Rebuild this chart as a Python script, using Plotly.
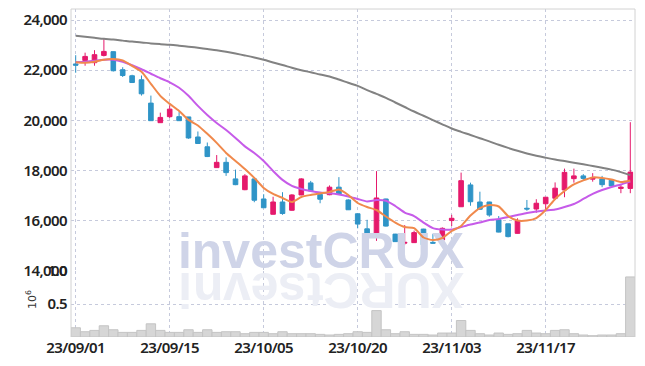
import plotly.graph_objects as go

dates = ["23/09/01","23/09/04","23/09/05","23/09/06","23/09/07","23/09/08","23/09/11","23/09/12","23/09/13","23/09/14",
         "23/09/15","23/09/18","23/09/19","23/09/20","23/09/21","23/09/22","23/09/25","23/09/26","23/09/27","23/10/04",
         "23/10/05","23/10/06","23/10/10","23/10/11","23/10/12","23/10/13","23/10/16","23/10/17","23/10/18","23/10/19",
         "23/10/20","23/10/23","23/10/24","23/10/25","23/10/26","23/10/27","23/10/30","23/10/31","23/11/01","23/11/02",
         "23/11/03","23/11/06","23/11/07","23/11/08","23/11/09","23/11/10","23/11/13","23/11/14","23/11/15","23/11/16",
         "23/11/17","23/11/20","23/11/21","23/11/22","23/11/23","23/11/24","23/11/27","23/11/28","23/11/29","23/11/30"]

open_ = [22250,22390,22300,22590,22740,22020,21780,21620,20690,19910,
         20150,20150,20140,19340,18950,18120,18330,17670,17240,17670,
         16870,16260,16750,16420,17030,17510,17050,17040,17340,16830,
         16280,15680,15430,16870,15470,15110,15130,15670,15140,15240,
         16010,16560,17430,16750,16750,16040,15880,15500,16500,16470,
         16680,16900,17230,17680,17790,17660,17670,17620,17290,17290]
high = [22600,22700,22800,23270,22750,22120,21820,21790,20990,20310,
        20600,20330,20140,19560,19120,18620,18530,18040,17860,17680,
        17060,16960,17140,17060,17700,17590,17080,17410,17740,16860,
        16290,16040,17980,16880,15480,15830,15610,15680,15470,15740,
        16240,17920,17520,17160,16760,16190,15890,16100,16830,16860,
        16950,17530,18080,18080,17860,17900,17790,17660,17440,19930]
low = [21900,22180,22180,22550,21950,21730,21490,20990,19980,19900,
       20100,19990,19270,19060,18540,18110,17790,17420,17220,16740,
       16510,16250,16240,16400,17020,17180,16700,17020,17060,16430,
       15700,15170,15200,15770,15160,15030,15120,15020,15080,15220,
       15790,16550,16600,16440,16160,15540,15340,15490,16400,16320,
       16430,16830,16940,17520,17590,17560,17340,17310,17100,17100]
close = [22200,22550,22620,22750,21980,21790,21510,21060,19990,20120,
         20450,19990,19300,19080,18560,18330,17920,17440,17790,16820,
         16520,16750,16290,17030,17670,17190,16860,17340,17070,16440,
         15870,15400,16910,15790,15170,15140,15530,15040,15110,15700,
         16100,17600,16760,16460,16230,15550,15370,16000,16470,16700,
         16940,17300,17930,17790,17690,17710,17440,17390,17340,17940]

ma_short = [22320,22300,22340,22420,22445,22390,22175,21940,21460,20980,
            20660,20380,20020,19800,19465,19105,18705,18385,18065,17710,
            17310,17070,16910,16750,16950,17030,17090,17150,17250,17030,
            16710,16550,16430,16170,15930,15750,15710,15335,15235,15315,
            15595,15795,16210,16510,16630,16570,16190,16010,16010,16110,
            16430,16870,17190,17450,17610,17730,17710,17650,17550,17610]
ma_mid = [22320,22340,22380,22420,22420,22340,22200,22040,21860,21680,
          21520,21300,20980,20580,20220,19900,19620,19300,18965,18705,
          18385,17985,17630,17390,17270,17190,17130,17100,17050,16970,
          16870,16770,16830,16800,16590,16330,16190,15930,15710,15650,
          15650,15750,15850,15930,16030,16070,16150,16230,16310,16370,
          16410,16450,16550,16670,16870,17070,17230,17350,17450,17560]
ma_long = [23370,23330,23290,23250,23220,23180,23140,23110,23070,23040,
           23015,22980,22940,22895,22845,22795,22735,22665,22590,22510,
           22420,22310,22210,22100,22000,21920,21830,21750,21630,21500,
           21375,21210,21055,20900,20715,20535,20355,20185,20015,19845,
           19680,19545,19420,19290,19165,19030,18905,18790,18685,18595,
           18515,18440,18380,18315,18250,18185,18115,18040,17940,17820]
volume = [140000,80000,100000,170000,110000,70000,70000,100000,200000,100000,
          70000,70000,110000,70000,110000,70000,80000,80000,50000,70000,
          70000,50000,80000,50000,50000,50000,40000,30000,40000,50000,
          80000,70000,400000,110000,50000,80000,40000,40000,30000,60000,
          60000,250000,100000,50000,30000,60000,40000,50000,100000,60000,
          50000,100000,110000,50000,30000,20000,30000,30000,50000,910000]

tick_idx = [0, 10, 20, 30, 40, 50]
y_ticks = [14000, 16000, 18000, 20000, 22000, 24000]

idx = list(range(len(dates)))
UP = "#e5196c"
DOWN = "#2f94c7"
TICKFONT = dict(family="Noto Sans Condensed, Noto Sans, Roboto, sans-serif",
                size=15, color="#222222", weight=600)
GRID = "#c6cadc"


def narrow(s):
    return f'<span style="font-stretch:condensed;letter-spacing:-0.6px">{s}</span>'


fig = go.Figure()

# watermark (behind everything in main panel)
fig.add_trace(go.Scatter(x=[26.1], y=[14620], mode="text", text=["investCRUX"],
                         textposition="middle center", cliponaxis=False, hoverinfo="skip",
                         textfont=dict(family="Liberation Sans, Arial, sans-serif", size=50,
                                       color="#cfd4e8", weight="bold"),
                         showlegend=False, xaxis="x", yaxis="y"))

fig.add_trace(go.Scatter(x=idx, y=ma_long, mode="lines",
                         line=dict(color="#828282", width=2, shape="spline", smoothing=1.0),
                         showlegend=False, hoverinfo="skip"))
fig.add_trace(go.Scatter(x=idx, y=ma_mid, mode="lines",
                         line=dict(color="#c65be9", width=2, shape="spline", smoothing=0.6),
                         showlegend=False, hoverinfo="skip"))
fig.add_trace(go.Scatter(x=idx, y=ma_short, mode="lines",
                         line=dict(color="#f0894c", width=2, shape="spline", smoothing=0.6),
                         showlegend=False, hoverinfo="skip"))
fig.add_trace(go.Candlestick(x=idx, open=open_, high=high, low=low, close=close,
                             increasing=dict(line=dict(color=UP, width=1), fillcolor=UP),
                             decreasing=dict(line=dict(color=DOWN, width=1), fillcolor=DOWN),
                             whiskerwidth=0, showlegend=False))

fig.add_trace(go.Bar(x=idx, y=[v / 1e6 for v in volume], marker=dict(color="#d6d6d6",
                     line=dict(color="#c4c4c4", width=1)), width=1.0,
                     showlegend=False, xaxis="x2", yaxis="y2"))

W, H = 645, 366
ML, MR, MT, MB = 71, 10, 9, 29
pw, ph = W - ML - MR, H - MT - MB


def px(x):
    return (x - ML) / pw


def py(y):
    return (H - MB - y) / ph


vol_top = py(271)

fig.update_layout(
    width=W, height=H, margin=dict(l=ML, r=MR, t=MT, b=MB, autoexpand=False),
    paper_bgcolor="white", plot_bgcolor="white", boxgap=0.3,
    xaxis=dict(domain=[0, 1], range=[-0.5, 59.5], anchor="y", showticklabels=False,
               tickvals=tick_idx, showgrid=True, gridcolor=GRID, griddash="dot", gridwidth=1,
               zeroline=False, rangeslider=dict(visible=False), showline=False, automargin=False),
    yaxis=dict(domain=[vol_top, 1], range=[14000, 24440], tickvals=y_ticks,
               ticktext=[narrow(f"{v:,}") for v in y_ticks], tickfont=TICKFONT,
               showgrid=True, gridcolor=GRID, griddash="dot", gridwidth=1, zeroline=False,
               ticks="", ticklabelstandoff=3, automargin=False),
    xaxis2=dict(domain=[0, 1], range=[-0.5, 59.5], anchor="y2", tickvals=tick_idx,
                ticktext=[narrow(dates[i]) for i in tick_idx], tickfont=TICKFONT,
                showgrid=True, gridcolor=GRID, griddash="dot", gridwidth=1, zeroline=False,
                ticks="", showline=False, automargin=False),
    yaxis2=dict(domain=[0, vol_top], range=[0, 1.0], tickvals=[0.5, 1.0],
                ticktext=[narrow("0.5"), narrow("1.0")],
                tickfont=TICKFONT, showgrid=True, gridcolor=GRID, griddash="dot", gridwidth=1,
                zeroline=False, ticks="", anchor="x2", ticklabelstandoff=3, automargin=False),
)

# plot frame (left, top, right)
for x0, y0, x1, y1 in [(0, 0, 0, 1), (0, 1, 1, 1), (1, 0, 1, 1)]:
    fig.add_shape(type="line", xref="paper", yref="paper", x0=x0, y0=y0, x1=x1, y1=y1,
                  line=dict(color="#d2d2d2", width=1))

# reflection of watermark (letters rotated)
letters = list("investCRUX")
centers = [185.5, 207.7, 236.9, 264.7, 292.5, 314.7, 341.1, 377.2, 413.3, 448.0]
for ch, cx in zip(letters, centers):
    fig.add_annotation(x=px(cx), y=py(290), xref="paper", yref="paper", text=ch, showarrow=False,
                       textangle=180, xanchor="center", yanchor="middle",
                       font=dict(family="Liberation Sans, Arial, sans-serif", size=50,
                                 color="#eceef5", weight="bold"))

fig.add_annotation(x=px(31), y=py(300), xref="paper", yref="paper", text="10<sup>6</sup>",
                   showarrow=False, textangle=-90, xanchor="center", yanchor="middle",
                   font=dict(family="DejaVu Sans, sans-serif", size=11, color="#333333"))

fig.write_html("out.html", config={"displayModeBar": False},
               post_script="document.body.style.margin='0';document.body.style.overflow='hidden';")
